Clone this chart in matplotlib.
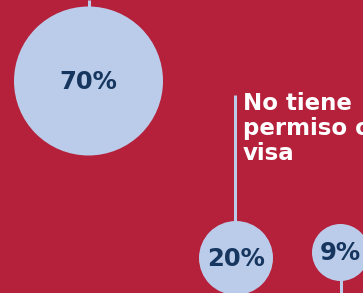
import matplotlib.pyplot as plt
from matplotlib.patches import Circle

# Datos
valores = [70, 20, 9]
etiquetas = ["70%", "20%", "9%"]
rotulo = "No tiene\npermiso o\nvisa"

# Colores
fondo = "#B5203B"
azul_claro = "#BACCE9"
azul_oscuro = "#17365F"

# Disposición (px)
centros = [(88.5, 81), (236, 258), (340.5, 252.5)]
radios = [74.5, 37, 28.5]

fig = plt.figure(figsize=(3.63, 2.93), dpi=100)
fig.patch.set_facecolor(fondo)
ax = fig.add_axes([0, 0, 1, 1])
ax.set_facecolor(fondo)
ax.set_xlim(0, 363)
ax.set_ylim(293, 0)
ax.axis("off")

# líneas de conexión
ax.plot([88.5, 88.5], [0, 8], color=azul_claro, lw=2.2, solid_capstyle="butt")
ax.plot([234.5, 234.5], [95, 222], color=azul_claro, lw=2.2, solid_capstyle="butt")
ax.plot([340.5, 340.5], [280, 293], color=azul_claro, lw=2.2, solid_capstyle="butt")

for v, et, c, r in zip(valores, etiquetas, centros, radios):
    ax.add_patch(Circle(c, r, facecolor=azul_claro, edgecolor="none"))
    ax.text(c[0], c[1] + 1, et, ha="center", va="center", color=azul_oscuro,
            fontsize=17.5, fontweight="heavy", family="DejaVu Sans")

ax.text(243, 92, rotulo, ha="left", va="top", color="white",
        fontsize=16.5, fontweight="bold", family="DejaVu Sans", linespacing=1.12)

fig.savefig("out.png", dpi=100, facecolor=fondo)
